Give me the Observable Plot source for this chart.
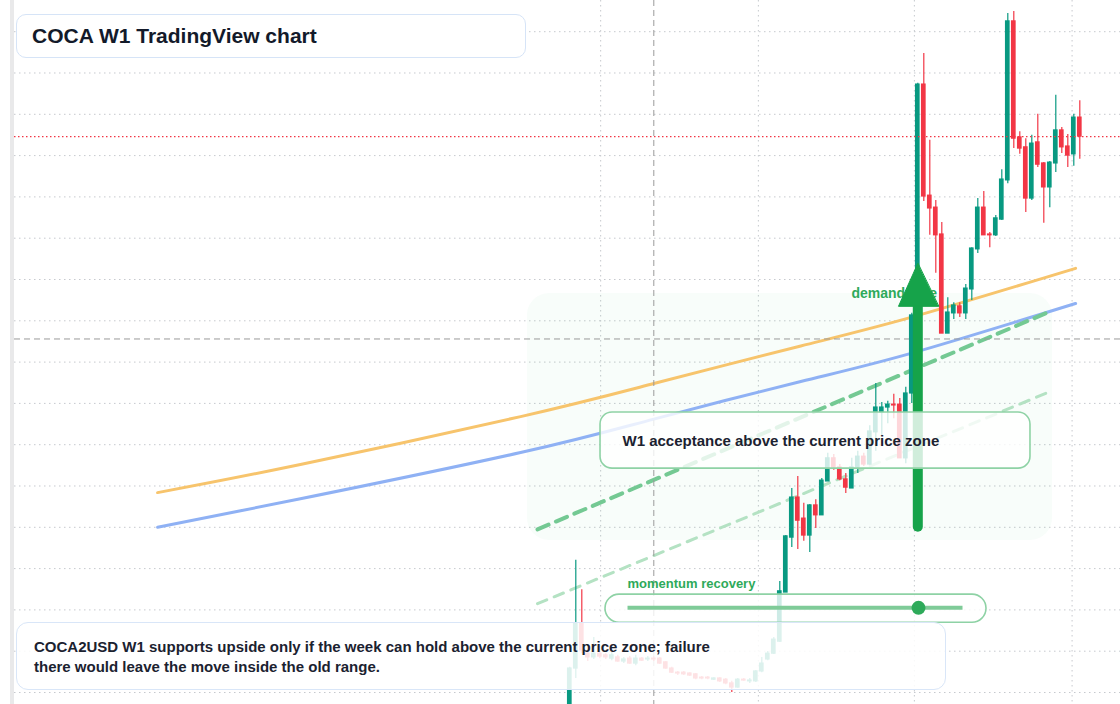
<!DOCTYPE html>
<html><head><meta charset="utf-8">
<script src="https://cdn.jsdelivr.net/npm/d3@7"></script>
<script src="https://cdn.jsdelivr.net/npm/@observablehq/plot@0.6"></script>
<style>
html,body{margin:0;padding:0;background:#fff;}
#wrap{position:relative;width:1120px;height:704px;overflow:hidden;font-family:"Liberation Sans",Arial,sans-serif;background:#fff;}
#chart{position:absolute;left:0;top:0;}
#axisbar{position:absolute;left:10px;top:0;width:4px;height:704px;background:#e9e9ea;}
.title{position:absolute;left:16px;top:14px;width:510px;height:44px;box-sizing:border-box;border:1px solid #d6e4f7;border-radius:10px;background:#fff;font-weight:700;font-size:21px;color:#131a2a;padding-left:15px;line-height:42px;}
.caption{position:absolute;left:16px;top:622px;width:930px;height:68px;box-sizing:border-box;border:1px solid #d9e6f8;border-radius:12px;background:rgba(255,255,255,0.86);font-weight:700;font-size:15px;color:#1b2230;padding:14px 0 0 17px;line-height:20px;}
</style></head>
<body>
<div id="wrap">
  <div id="chart"></div>
  <div id="axisbar"></div>
  <div class="title">COCA W1 TradingView chart</div>
  <div class="caption">COCA2USD W1 supports upside only if the week can hold above the current price zone; failure<br>there would leave the move inside the old range.</div>
</div>
<script>
// ---- data (weekly candles, price in US cents) ----
const firstWeek = Date.UTC(2023, 4, 26);
const opens  = [1.42,2.58,3.67,2.94,2.85,2.94,2.90,2.82,2.85,2.75,2.82,2.70,2.82,2.80,2.82,2.82,2.73,2.58,2.48,2.48,2.46,2.44,2.36,2.36,2.31,2.34,2.31,2.22,2.12,2.31,2.27,2.27,2.51,2.80,2.94,3.23,4.42,5.75,6.72,6.21,5.80,6.53,6.29,7.11,7.67,7.45,7.16,6.94,7.45,7.71,7.52,8.30,8.78,8.90,8.97,8.97,7.67,9.24,11.13,16.72,14.03,13.74,13.09,10.69,11.18,11.35,11.18,11.76,12.73,13.74,13.09,13.07,13.45,14.40,18.25,15.44,15.20,13.96,15.32,14.81,14.23,14.81,15.61,15.22,15.03,15.92];
const highs  = [2.61,5.20,4.49,3.02,3.33,2.99,2.94,2.97,2.90,2.85,2.87,2.90,2.85,2.87,2.87,2.85,2.75,2.61,2.51,2.51,2.48,2.46,2.39,2.39,2.36,2.36,2.34,2.27,2.34,2.34,2.34,2.53,2.85,2.99,3.33,4.69,5.80,6.94,7.23,6.58,6.55,6.67,7.18,7.79,7.76,7.52,7.30,7.67,7.84,7.79,8.46,9.48,9.02,9.05,9.22,9.12,9.39,11.18,16.75,17.47,15.37,13.91,13.38,11.56,11.44,11.44,11.88,12.77,13.96,14.13,13.14,13.55,14.66,18.44,18.49,15.58,15.41,15.49,16.00,14.83,14.86,16.46,15.68,15.51,16.00,16.33];
const lows   = [1.27,2.34,2.94,2.75,2.80,2.82,2.80,2.77,2.73,2.70,2.68,2.65,2.75,2.75,2.75,2.68,2.56,2.46,2.41,2.41,2.39,2.31,2.31,2.31,2.29,2.24,2.19,2.00,2.10,2.27,2.22,2.24,2.48,2.77,2.92,3.21,4.42,5.51,5.46,5.66,5.39,5.97,6.29,7.11,7.38,7.13,6.82,6.94,7.30,7.47,7.50,7.84,8.22,8.51,8.63,7.67,7.54,9.00,11.06,13.89,13.07,12.15,10.69,10.69,11.03,11.08,11.03,11.49,12.63,13.07,12.77,13.04,13.43,14.32,15.17,15.03,13.62,13.91,14.71,13.36,13.74,14.59,15.05,14.71,14.74,14.91];
const closes = [2.58,3.67,3.02,2.85,2.94,2.87,2.85,2.90,2.75,2.80,2.70,2.82,2.77,2.82,2.80,2.70,2.58,2.48,2.46,2.44,2.41,2.34,2.34,2.34,2.34,2.27,2.22,2.12,2.31,2.29,2.29,2.51,2.70,2.94,3.28,4.45,5.78,6.72,6.16,5.80,6.53,6.29,7.13,7.67,7.45,7.16,6.96,7.45,7.71,7.52,8.32,8.90,8.90,8.97,8.95,7.67,9.24,11.13,16.72,14.01,13.72,13.07,10.69,11.20,11.37,11.18,11.78,12.75,13.74,13.07,13.07,13.48,14.42,18.25,15.41,15.17,13.96,15.29,14.78,14.23,14.83,15.61,15.20,15.00,15.92,15.46];

// moving averages (week offset from first candle, price)
const maWeeks   = [-68.7,-44.9,-8.2,14.0,38.5,57.3,84.3];
const maOrange  = [6.84,7.52,8.68,9.48,10.39,11.10,12.27];
const maBlue    = [6.00,6.69,7.81,8.62,9.53,10.23,11.42];
// channel (dashed) lines
const channelWeeks = [-5.38,79.6];
const channelUpper = [5.95,11.20];
const channelLower = [4.15,9.26];
// grid / reference values
const gridPrices = [2,3,4,5,6,7,8,9,10,11,12,13,14,15,16,17,18];
const gridDates  = ["2023-07-01","2024-01-01","2024-07-01","2025-01-01"].map(s => new Date(s));
const crossWeek = 14, crossPrice = 10.56;
// annotations (week offsets, prices)
const demandZone = [{w1:-7.05, w2:80.45, lo:5.68, hi:11.66}];
const demandLabel = [{w:46.95, v:11.66, text:"demand side"}];
const bigArrow = [{w:58, from:6.00, to:11.6}];
const arrowHead = [{w:58, v:12.39},{w:54.78, v:11.35},{w:61.45, v:11.35}];
const acceptBox = [{w1:5.12, w2:76.78, lo:7.42, hi:8.78}];
const acceptText = [{w:8.78, v:8.08, text:"W1 acceptance above the current price zone"}];
const momentumBox = [{w1:5.95, w2:69.45, lo:3.69, hi:4.37}];
const momentumBar = [{w1:9.62, w2:65.45, v:4.05}];
const momentumDot = [{w:58.12, v:4.05}];
const momentumLabel = [{w:9.62, v:4.64, text:"momentum recovery"}];

// ---- build ----
const wk = w => new Date(firstWeek + Math.round(w * 7 * 864e5));
const candles = opens.map((o, i) => ({date: wk(i), open: o, high: highs[i], low: lows[i], close: closes[i]}));
const GREEN = "#089981", RED = "#f23645";
const col = d => d.close >= d.open ? GREEN : RED;
const half = 2.75 * 864e5;
const pts = (ws, vs) => ws.map((w, i) => ({date: wk(w), v: vs[i]}));
const FONT = "Liberation Sans, Arial, sans-serif";

const svg = Plot.plot({
  width: 1120, height: 704,
  marginLeft: 14, marginRight: 0, marginTop: 0, marginBottom: 0,
  style: {background: "transparent", fontFamily: FONT, overflow: "visible"},
  x: {type: "utc", domain: [candles[0].date, candles[candles.length - 1].date], range: [569.3, 1079.3], axis: null},
  y: {domain: [1.7094, 18.7554], range: [704, 0], axis: null},
  color: {type: "identity"},
  marks: [
    Plot.ruleY(gridPrices, {stroke: "#c6c9ce", strokeDasharray: "1.5,3.5"}),
    Plot.ruleX(gridDates, {stroke: "#c6c9ce", strokeDasharray: "1.5,3.5"}),
    Plot.rect(demandZone, {x1: d => wk(d.w1), x2: d => wk(d.w2), y1: "lo", y2: "hi", fill: "#22c55e", fillOpacity: 0.03, rx: 22, ariaLabel: "zone"}),
    Plot.line(pts(maWeeks, maOrange), {x: "date", y: "v", stroke: "#f7c46c", strokeWidth: 3, curve: "natural"}),
    Plot.line(pts(maWeeks, maBlue), {x: "date", y: "v", stroke: "#8fb1f4", strokeWidth: 3, curve: "natural"}),
    Plot.line(pts(channelWeeks, channelLower), {x: "date", y: "v", stroke: "#b4e2c3", strokeWidth: 3, strokeDasharray: "10,8"}),
    Plot.line(pts(channelWeeks, channelUpper), {x: "date", y: "v", stroke: "#74c993", strokeWidth: 4, strokeDasharray: "12,8"}),
    Plot.ruleY([crossPrice], {stroke: "#9a9a9a", strokeDasharray: "6,4", strokeWidth: 1}),
    Plot.ruleX([wk(crossWeek)], {stroke: "#9a9a9a", strokeDasharray: "6,4", strokeWidth: 1}),
    Plot.ruleX(candles, {x: "date", y1: "low", y2: "high", stroke: col, strokeWidth: 1.2}),
    Plot.rect(candles, {x1: d => new Date(+d.date - half), x2: d => new Date(+d.date + half), y1: "open", y2: "close", fill: col, inset: 0, insetTop: -0.6, insetBottom: -0.6}),
    Plot.ruleY([closes[closes.length - 1]], {stroke: RED, strokeDasharray: "1.5,2.5", strokeWidth: 1.2}),
    Plot.text(demandLabel, {x: d => wk(d.w), y: "v", text: "text", fill: "#2eaa5a", fontWeight: 700, fontSize: 14, textAnchor: "start", fontFamily: FONT}),
    Plot.ruleX(bigArrow, {x: d => wk(d.w), y1: "from", y2: "to", stroke: "#16a34a", strokeWidth: 10, strokeLinecap: "round"}),
    Plot.line(arrowHead, {x: d => wk(d.w), y: "v", fill: "#16a34a", stroke: "#16a34a", strokeWidth: 1, curve: "linear-closed"}),
    Plot.rect(acceptBox, {x1: d => wk(d.w1), x2: d => wk(d.w2), y1: "lo", y2: "hi", fill: "white", fillOpacity: 0.8, stroke: "#8ed2a5", strokeWidth: 1.6, rx: 12, ariaLabel: "accept-box"}),
    Plot.text(acceptText, {x: d => wk(d.w), y: "v", text: "text", fill: "#1b2230", fontWeight: 700, fontSize: 15, textAnchor: "start", fontFamily: FONT}),
    Plot.rect(momentumBox, {x1: d => wk(d.w1), x2: d => wk(d.w2), y1: "lo", y2: "hi", fill: "white", fillOpacity: 0.8, stroke: "#8ed2a5", strokeWidth: 1.6, rx: 14, ariaLabel: "momentum-box"}),
    Plot.link(momentumBar, {x1: d => wk(d.w1), x2: d => wk(d.w2), y1: "v", y2: "v", stroke: "#7fcb98", strokeWidth: 4}),
    Plot.dot(momentumDot, {x: d => wk(d.w), y: "v", r: 7, fill: "#2eaa5a"}),
    Plot.text(momentumLabel, {x: d => wk(d.w), y: "v", text: "text", fill: "#2eaa5a", fontWeight: 700, fontSize: 13, textAnchor: "start", fontFamily: FONT})
  ]
});
// rounded corners fallback
d3.select(svg).selectAll("g[aria-label='zone'] rect").attr("rx", 22);
d3.select(svg).selectAll("g[aria-label='accept-box'] rect").attr("rx", 12);
d3.select(svg).selectAll("g[aria-label='momentum-box'] rect").attr("rx", 14);
document.getElementById("chart").appendChild(svg);
</script>
</body></html>
